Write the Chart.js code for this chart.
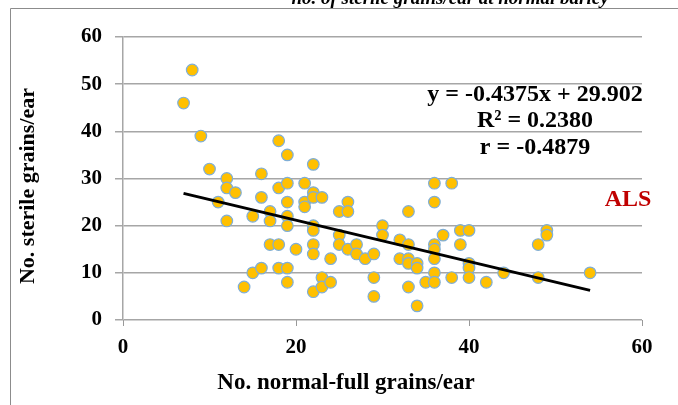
<!DOCTYPE html>
<html>
<head>
<meta charset="utf-8">
<script src="https://cdn.jsdelivr.net/npm/chart.js@4/dist/chart.umd.min.js"></script>
<style>
   html, body { margin: 0; padding: 0; background: #fff; }
   #wrap { width: 678px; height: 405px; position: relative; }
</style>
</head>
<body>
<div id="wrap"><canvas id="scatterChart"></canvas></div>
<script>
// No. normal-full grains/ear (x) vs No. sterile grains/ear (y)
const fullGrains = [
   7, 8, 9, 10, 11, 12, 12, 12, 13, 14,
   15, 15, 16, 16, 16, 17, 17, 17, 18, 18,
   18, 18, 19, 19, 19, 19, 19, 19, 19, 20,
   21, 21, 21, 22, 22, 22, 22, 22, 22, 22,
   22, 23, 23, 23, 24, 24, 25, 25, 25, 26,
   26, 26, 27, 27, 28, 29, 29, 29, 30, 30,
   32, 32, 33, 33, 33, 33, 33, 34, 34, 34,
   35, 36, 36, 36, 36, 36, 36, 36, 37, 38,
   38, 39, 39, 40, 40, 40, 40, 42, 44, 48,
   48, 49, 49, 54
];
const sterileGrains = [
   46, 53, 39, 32, 25, 30, 28, 21, 27, 7,
   22, 10, 31, 26, 11, 23, 21, 16, 38, 28,
   16, 11, 35, 29, 25, 22, 20, 11, 8, 15,
   29, 25, 24, 33, 27, 26, 20, 19, 16, 14,
   6, 26, 9, 7, 13, 8, 23, 18, 16, 25,
   23, 15, 16, 14, 13, 14, 9, 5, 20, 18,
   17, 13, 23, 16, 13, 12, 7, 12, 11, 3,
   8, 29, 25, 16, 15, 13, 10, 8, 18, 29,
   9, 19, 16, 19, 12, 11, 9, 8, 10, 16,
   9, 19, 18, 10
];
const xTicks = [0, 20, 40, 60];
const yTicks = [0, 10, 20, 30, 40, 50, 60];

// linear trend from the reference
const slope = -0.4375;
const intercept = 29.902;
const statLines = ['y = -0.4375x + 29.902', 'R² = 0.2380', 'r = -0.4879'];
const groupLabel = 'ALS';
const chartTitle = 'no. of sterile grains/ear at normal barley';
const xTitle = 'No. normal-full grains/ear';
const yTitle = 'No. sterile grains/ear';

const serif = "'Liberation Serif', 'Times New Roman', serif";

const points = fullGrains.map((x, i) => ({ x: x, y: sterileGrains[i] }));
const xMin = Math.min(...fullGrains);
const xMax = Math.max(...fullGrains);
const trend = [
   { x: xMin, y: slope * xMin + intercept },
   { x: xMax, y: slope * xMax + intercept },
];

const extras = {
   id: 'extras',
   afterDraw(chart) {
      const c = chart.ctx;
      c.save();
      // outer frame (top and left edges only visible)
      c.strokeStyle = '#8c8c8c';
      c.lineWidth = 1;
      c.beginPath();
      c.moveTo(10.5, 405);
      c.lineTo(10.5, 8.5);
      c.lineTo(678, 8.5);
      c.stroke();

      // clipped title at the very top
      c.fillStyle = '#000';
      c.font = "italic bold 19px " + serif;
      c.textAlign = 'center';
      c.textBaseline = 'alphabetic';
      c.fillText(chartTitle, 450, 4);

      // axis titles
      c.font = "bold 23px " + serif;
      c.textBaseline = 'middle';
      c.fillText(xTitle, 346, 383);
      c.font = "bold 22px " + serif;
      c.save();
      c.translate(28, 186);
      c.rotate(-Math.PI / 2);
      c.fillText(yTitle, 0, 0);
      c.restore();

      // regression text
      c.font = "bold 24px " + serif;
      c.fillText(statLines[0], 535, 95);
      c.fillText(statLines[1], 535, 121);
      c.fillText(statLines[2], 535, 148);

      c.fillStyle = '#C00000';
      c.fillText(groupLabel, 628, 200);
      c.restore();
   }
};

const ctx = document.getElementById('scatterChart').getContext('2d');

new Chart(ctx, {
   type: 'scatter',
   data: {
      datasets: [
         {
            label: 'trend',
            type: 'line',
            data: trend,
            borderColor: '#000',
            borderWidth: 3,
            pointRadius: 0,
            fill: false,
            order: 0,
         },
         {
            label: 'ALS',
            data: points,
            backgroundColor: '#FFC000',
            borderColor: '#7FAED6',
            borderWidth: 1.2,
            pointRadius: 5.8,
            order: 1,
         },
      ],
   },
   options: {
      responsive: true,
      maintainAspectRatio: false,
      animation: false,
      devicePixelRatio: 1,
      layout: { padding: { top: 37, right: 36, left: 0, bottom: 0 } },
      plugins: {
         legend: { display: false },
         tooltip: { enabled: false },
      },
      scales: {
         x: {
            type: 'linear',
            min: 0,
            max: 60,
            afterFit: s => { s.height = 85; },
            afterBuildTicks: s => { s.ticks = xTicks.map(v => ({ value: v })); },
            grid: {
               drawOnChartArea: false,
               drawTicks: true,
               tickLength: 6,
               color: '#999',
            },
            border: { display: false },
            ticks: {
               padding: 9,
               color: '#000',
               font: { family: serif, size: 21, weight: 'bold' },
            },
         },
         y: {
            min: 0,
            max: 60,
            afterFit: s => { s.width = 123; },
            afterBuildTicks: s => { s.ticks = yTicks.map(v => ({ value: v })); },
            grid: {
               color: '#a6a6a6',
               lineWidth: 1.5,
               drawTicks: true,
               tickLength: 8,
            },
            border: { display: true, color: '#a6a6a6', width: 1.5 },
            ticks: {
               padding: 13,
               color: '#000',
               font: { family: serif, size: 21, weight: 'bold' },
            },
         },
      },
   },
   plugins: [extras],
});
</script>
</body>
</html>
